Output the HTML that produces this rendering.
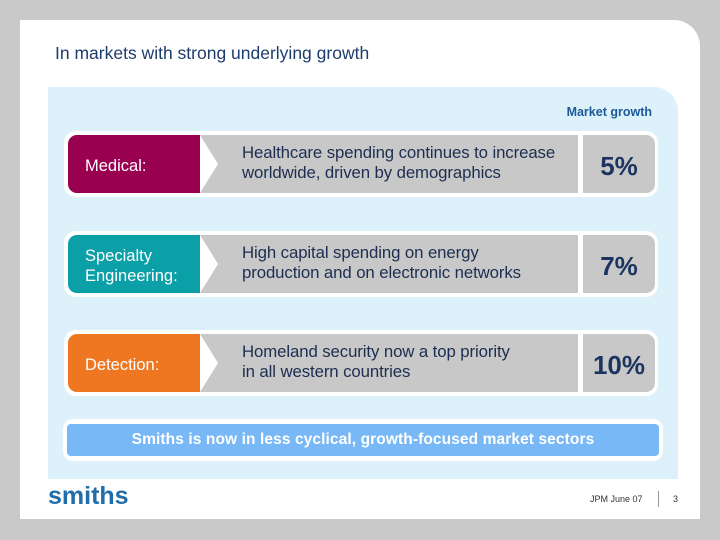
<!DOCTYPE html>
<html><head><meta charset="utf-8"><style>
body{margin:0;width:720px;height:540px;background:#c9c9c9;font-family:"Liberation Sans",sans-serif;position:relative;overflow:hidden}
.abs{position:absolute}
#card{left:20px;top:20px;width:680px;height:499px;background:#fff;border-top-right-radius:26px}
#panel{left:48px;top:87px;width:630px;height:392px;background:#ddf1fb;border-top-right-radius:24px}
.row{left:64px;width:594px;height:66px;background:#fff;border-radius:12px}
.lab{left:4px;top:4px;width:132px;height:58px;border-radius:9px 0 0 9px;color:#fff;font-size:16.5px;display:flex;align-items:center;padding-left:17px;padding-top:3px;box-sizing:border-box;line-height:20px}
.mid{left:136px;top:4px;width:378px;height:58px;background:#c8c8c8;clip-path:polygon(0 0,100% 0,100% 100%,0 100%,18px 50%,0 0)}
.txt{left:178px;top:12px;font-size:16.8px;color:#1c2e50;line-height:20px;white-space:nowrap;letter-spacing:-0.1px}
.pct{left:519px;top:4px;width:72px;height:58px;background:#c8c8c8;border-radius:0 9px 9px 0;display:flex;align-items:center;justify-content:center;font-weight:bold;font-size:26px;color:#1c3560;padding-top:4px;box-sizing:border-box}
</style></head><body>
<div id="card" class="abs"></div>
<div class="abs" style="left:55px;top:43px;font-size:17.5px;color:#1e3c6e">In markets with strong underlying growth</div>
<div id="panel" class="abs"></div>
<div class="abs" style="right:68px;top:105px;font-size:12.5px;font-weight:bold;color:#1d5a98">Market growth</div>

<div class="abs row" style="top:131px">
<div class="abs lab" style="background:#990050">Medical:</div>
<div class="abs mid"></div>
<div class="abs txt">Healthcare spending continues to increase<br>worldwide, driven by demographics</div>
<div class="abs pct">5%</div>
</div>
<div class="abs row" style="top:231px">
<div class="abs lab" style="background:#0b9fa8">Specialty<br>Engineering:</div>
<div class="abs mid"></div>
<div class="abs txt">High capital spending on energy<br>production and on electronic networks</div>
<div class="abs pct">7%</div>
</div>
<div class="abs row" style="top:330px">
<div class="abs lab" style="background:#ef7722">Detection:</div>
<div class="abs mid"></div>
<div class="abs txt">Homeland security now a top priority<br>in all western countries</div>
<div class="abs pct">10%</div>
</div>

<div class="abs" style="left:63px;top:419px;width:600px;height:42px;background:#fff;border-radius:10px"></div>
<div class="abs" style="left:67px;top:424px;width:592px;height:32px;background:#78b8f6;border-radius:4px;color:#fff;font-weight:bold;font-size:15.5px;display:flex;align-items:center;justify-content:center;letter-spacing:0.1px">Smiths is now in less cyclical, growth-focused market sectors</div>

<div class="abs" style="left:48px;top:482px;font-size:25px;color:#1f6eaa;font-weight:bold">smiths</div>
<div class="abs" style="left:590px;top:494px;font-size:9px;color:#333">JPM June 07</div>
<div class="abs" style="left:658px;top:491px;width:1px;height:16px;background:#999"></div>
<div class="abs" style="left:673px;top:494px;font-size:9px;color:#333">3</div>
</body></html>
